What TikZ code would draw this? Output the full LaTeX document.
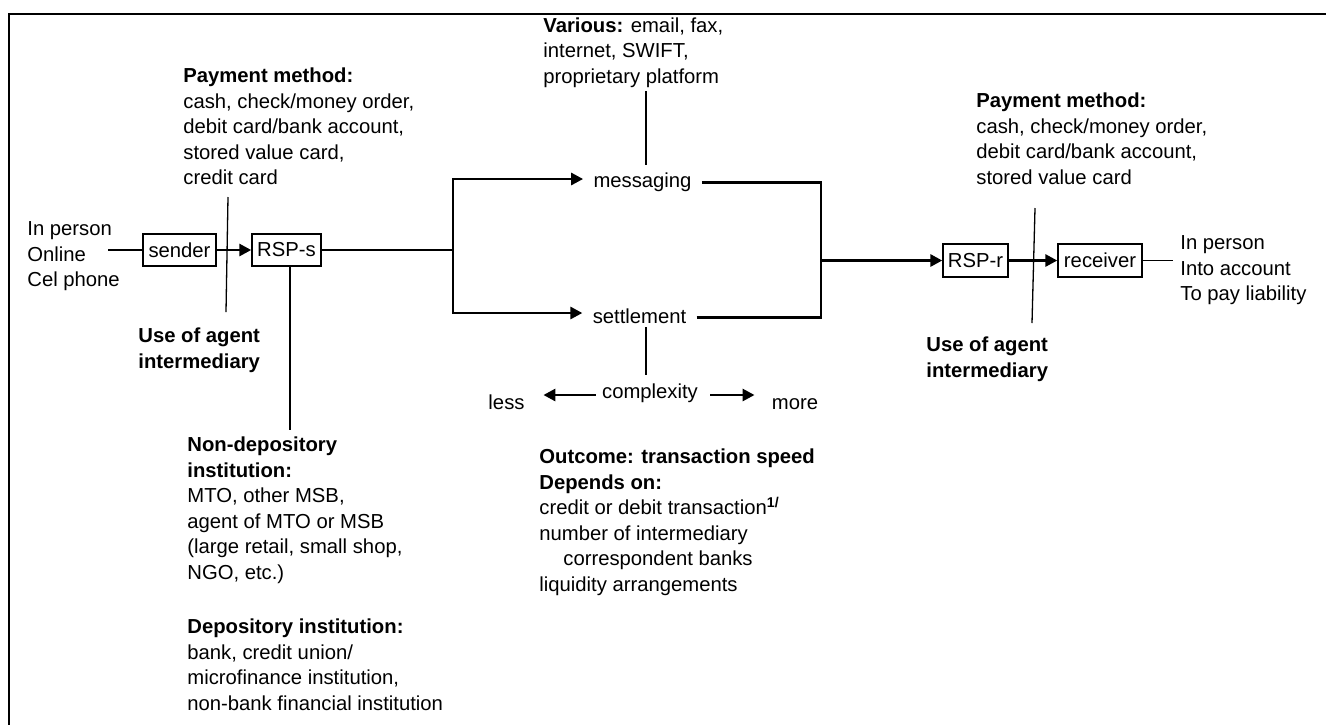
\documentclass[tikz,border=0pt]{standalone}
\usepackage{fontspec}
\setmainfont{Liberation Sans}
\usetikzlibrary{arrows.meta,calc}
\begin{document}
\begin{tikzpicture}[x=0.5pt,y=-0.5pt,
  every node/.style={font=\fontsize{10.13}{12.75}\selectfont},
  txt/.style={inner sep=0pt, align=left, anchor=north west},
  lbl/.style={inner ysep=0pt, inner xsep=5pt, anchor=base},
  box/.style={draw, line width=0.7pt, inner sep=0pt, minimum height=16pt},
  thk/.style={line width=1.4pt},
  thkk/.style={line width=1.8pt},
  thn/.style={line width=0.65pt},
  tip/.style={-{Triangle[length=6pt,width=6pt]}}
]
\useasboundingbox (0,0) rectangle (1326,724);
% frame
\draw[line width=1.2pt] (1330,14) -- (9,14) -- (9,726);

% text blocks
\node[txt] (pmL) at (183,67.5) {\textbf{Payment method:}\\cash, check/money order,\\debit card/bank account,\\stored value card,\\credit card};
\node[txt] (various) at (543,17) {\textbf{Various:} email, fax,\\internet, SWIFT,\\proprietary platform};
\node[txt] (inL) at (27,221.5) {In person\\Online\\Cel phone};
\node[txt, font=\fontsize{10.13}{12.75}\selectfont\bfseries] (useL) at (138,327.5) {Use of agent\\intermediary};
\node[txt] (nondep) at (187,436.5) {\textbf{Non-depository}\\\textbf{institution:}\\MTO, other MSB,\\agent of MTO or MSB\\(large retail, small shop,\\NGO, etc.)};
\node[txt] (dep) at (187,618.5) {\textbf{Depository institution:}\\bank, credit union/\\microfinance institution,\\non-bank financial institution};
\node[txt] (outcome) at (539,448.5) {\textbf{Outcome: transaction speed}\\\textbf{Depends on:}\\credit or debit transaction\textsuperscript{\textbf{1/}}\\number of intermediary\\\hspace*{12pt}correspondent banks\\liquidity arrangements};
\node[txt] (pmR) at (976,92.5) {\textbf{Payment method:}\\cash, check/money order,\\debit card/bank account,\\stored value card};
\node[txt, font=\fontsize{10.13}{12.75}\selectfont\bfseries] (useR) at (926,336.5) {Use of agent\\intermediary};
\node[txt] (inR) at (1180,235.5) {In person\\Into account\\To pay liability};

% boxes
\node[box, minimum width=36.5pt] (sender) at (179.5,250) {sender};
\node[box, minimum width=34.5pt] (rsps) at (286.5,250) {RSP-s};
\node[box, minimum width=32.5pt, minimum height=16.5pt] (rspr) at (975.5,260.5) {RSP-r};
\node[box, minimum width=42pt, minimum height=16.5pt] (recv) at (1100,260.5) {receiver};

% labels
\node[lbl] (msg) at (642.5,187) {messaging};
\node[lbl] (set) at (639.5,323) {settlement};
\node[lbl, inner xsep=3pt] (cx) at (650,398) {complexity};
\node[lbl, inner xsep=0pt] (less) at (506.5,409) {less};
\node[lbl, inner xsep=0pt] (more) at (795,409) {more};

% coordinates
\coordinate (inLend) at (108,250);
\coordinate (jl) at (453,250);
\coordinate (jt) at (453,179);
\coordinate (jb) at (453,313);
\coordinate (jr) at (821,260.5);
\coordinate (inRend) at (1173,260.5);
\coordinate (sL1) at (228,197);
\coordinate (sL2) at (226,312);
\coordinate (sR1) at (1035,208);
\coordinate (sR2) at (1032,323);
\coordinate (v1a) at (646,91);
\coordinate (v1b) at (646,165);
\coordinate (v2a) at (646,327);
\coordinate (v2b) at (646,375);
\coordinate (rspsl) at (290,430);
\coordinate (ay) at (0,395);

% connectors
\draw[thn] (inLend) -- (sender.west);
\draw[thk,tip] (sender.east) -- (rsps.west);
\draw[thk] (rsps.east) -- (jl);
\draw[thk,tip] (jl) -- (jt) -- (jt -| msg.west);
\draw[thk,tip] (jl) -- (jb) -- (jb -| set.west);
\draw[thk] ([yshift=-0.5pt]msg.east) -| (jr);
\draw[thk] ([yshift=-1pt]set.east) -| (jr);
\draw[thkk,tip] (jr) -- (rspr.west);
\draw[thk,tip] (rspr.east) -- (recv.west);
\draw[thn] (recv.east) -- (inRend);

\draw[thn] (sL1) -- (sL2);
\draw[thn] (sR1) -- (sR2);
\draw[thn] (v1a) -- (v1b);
\draw[thn] (v2a) -- (v2b);
\draw[thn] (rsps.south -| rspsl) -- (rspsl);

\draw[thk,tip,shorten >=9.25pt] (cx.west |- ay) -- (less.east |- ay);
\draw[thk,tip,shorten <=3pt,shorten >=8.5pt] (cx.east |- ay) -- (more.west |- ay);
\end{tikzpicture}
\end{document}
